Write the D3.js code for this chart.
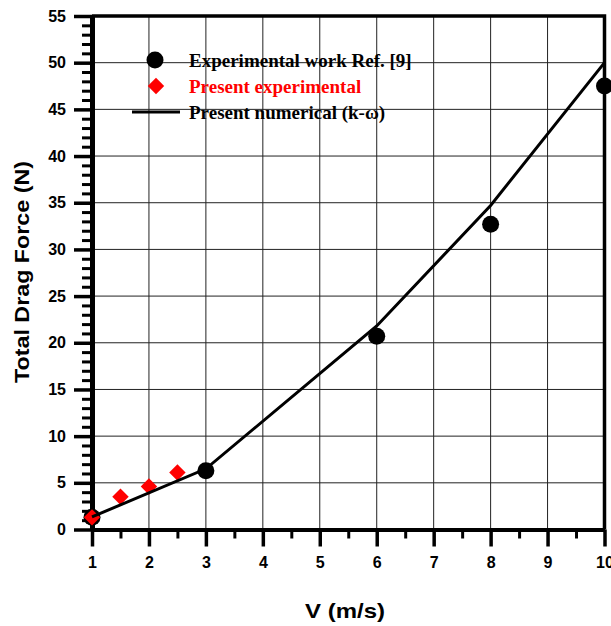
<!DOCTYPE html>
<html>
<head>
<meta charset="utf-8">
<script src="https://cdn.jsdelivr.net/npm/d3@7"></script>
<style>
  body { margin: 0; background: #fff; }
  .tick text { font-family: "Liberation Sans", Arial, sans-serif; font-weight: bold; font-size: 16px; fill: #000; }
</style>
</head>
<body>
<svg width="611" height="626"></svg>
<script>
// Data
const refSpeed = [1, 3, 6, 8, 10];
const refForce = [1.3, 6.3, 20.7, 32.7, 47.5];
const expSpeed = [1, 1.5, 2, 2.5];
const expForce = [1.3, 3.5, 4.6, 6.1];
const numSpeed = [1, 3, 6, 8, 10];
const numForce = [1.35, 6.5, 21.8, 34.7, 50.0];

const xTicks = [1, 2, 3, 4, 5, 6, 7, 8, 9, 10];
const xMinor = [1.5, 2.5, 3.5, 4.5, 5.5, 6.5, 7.5, 8.5, 9.5];
const yTicks = [0, 5, 10, 15, 20, 25, 30, 35, 40, 45, 50, 55];
const yMinor = d3.range(0, 56).filter(v => v % 5 !== 0);
const legendLabels = ["Experimental work Ref. [9]", "Present experimental", "Present numerical (k-\u03c9)"];

const svg = d3.select('svg');

const x = d3.scaleLinear().domain([1, 10]).range([92, 604.5]);
const y = d3.scaleLinear().domain([0, 55]).range([529.5, 16]);

// Grid
const grid = svg.append('g');
grid.selectAll('line.v')
    .data(xTicks.slice(1, -1))
    .enter().append('line')
    .attr('x1', d => x(d)).attr('x2', d => x(d))
    .attr('y1', y(0)).attr('y2', y(55))
    .attr('stroke', '#222').attr('stroke-width', 1);
grid.selectAll('line.h')
    .data(yTicks.slice(1, -1))
    .enter().append('line')
    .attr('x1', x(1)).attr('x2', x(10))
    .attr('y1', d => y(d)).attr('y2', d => y(d))
    .attr('stroke', '#222').attr('stroke-width', 1);

// Frame: top and right
svg.append('path')
    .attr('d', `M${x(1)},${y(55)}H${x(10)}V${y(0)}`)
    .attr('fill', 'none')
    .attr('stroke', '#000')
    .attr('stroke-width', 3.5);

// Axes
function styleAxis(g, width) {
    g.select('.domain').attr('stroke-width', width);
    g.selectAll('.tick line').attr('stroke-width', 3);
}

svg.append('g')
    .attr('transform', `translate(${x(1)},0)`)
    .call(d3.axisLeft(y).tickValues(yMinor).tickSize(10).tickFormat('').tickSizeOuter(0))
    .call(g => styleAxis(g, 5));
svg.append('g')
    .attr('transform', `translate(${x(1)},0)`)
    .call(d3.axisLeft(y).tickValues(yTicks).tickSize(18).tickPadding(8).tickSizeOuter(0))
    .call(g => g.select('.domain').remove())
    .call(g => g.selectAll('.tick line').attr('stroke-width', 3.5));

svg.append('g')
    .attr('transform', `translate(0,${y(0)})`)
    .call(d3.axisBottom(x).tickValues(xMinor).tickSize(9).tickFormat('').tickSizeOuter(0))
    .call(g => styleAxis(g, 4));
svg.append('g')
    .attr('transform', `translate(0,${y(0)})`)
    .call(d3.axisBottom(x).tickValues(xTicks).tickSize(17).tickPadding(10).tickSizeOuter(0))
    .call(g => g.select('.domain').remove())
    .call(g => g.selectAll('.tick line').attr('stroke-width', 3.5));

// Axis titles
svg.append('text')
    .attr('transform', 'translate(29,272) rotate(-90)')
    .attr('text-anchor', 'middle')
    .attr('textLength', 222)
    .attr('lengthAdjust', 'spacingAndGlyphs')
    .style('font-family', '"Liberation Sans", Arial, sans-serif')
    .style('font-weight', 'bold')
    .style('font-size', '21px')
    .text('Total Drag Force (N)');

svg.append('text')
    .attr('x', 345)
    .attr('y', 618)
    .attr('text-anchor', 'middle')
    .attr('textLength', 80)
    .attr('lengthAdjust', 'spacingAndGlyphs')
    .style('font-family', '"Liberation Sans", Arial, sans-serif')
    .style('font-weight', 'bold')
    .style('font-size', '21px')
    .text('V (m/s)');

// Data
const refPts = refSpeed.map((v, i) => [v, refForce[i]]);
const expPts = expSpeed.map((v, i) => [v, expForce[i]]);
const numPts = numSpeed.map((v, i) => [v, numForce[i]]);

const diamond = d3.symbol().type(d3.symbolSquare).size(135);

svg.append('g').selectAll('circle')
    .data(refPts)
    .enter().append('circle')
    .attr('cx', d => x(d[0]))
    .attr('cy', d => y(d[1]))
    .attr('r', 8.5)
    .attr('fill', '#000');

svg.append('g').selectAll('path')
    .data(expPts)
    .enter().append('path')
    .attr('d', diamond)
    .attr('transform', d => `translate(${x(d[0])},${y(d[1])}) rotate(45)`)
    .attr('fill', '#ff0000');

svg.append('path')
    .datum(numPts)
    .attr('d', d3.line().x(d => x(d[0])).y(d => y(d[1])))
    .attr('fill', 'none')
    .attr('stroke', '#000')
    .attr('stroke-width', 3);

// Legend
const legend = svg.append('g')
    .style('font-family', '"Liberation Serif", "Times New Roman", serif')
    .style('font-weight', 'bold')
    .style('font-size', '19px');

legend.append('circle').attr('cx', 155).attr('cy', 60).attr('r', 8.5).attr('fill', '#000');
legend.append('path').attr('d', diamond).attr('transform', 'translate(156,86) rotate(45)').attr('fill', '#ff0000');
legend.append('line').attr('x1', 132).attr('x2', 180).attr('y1', 112).attr('y2', 112)
    .attr('stroke', '#000').attr('stroke-width', 3);

legend.selectAll('text')
    .data(legendLabels)
    .enter().append('text')
    .attr('x', 189)
    .attr('y', (d, i) => 67 + i * 26)
    .attr('fill', (d, i) => i === 1 ? '#ff0000' : '#000')
    .text(d => d);
</script>
</body>
</html>
